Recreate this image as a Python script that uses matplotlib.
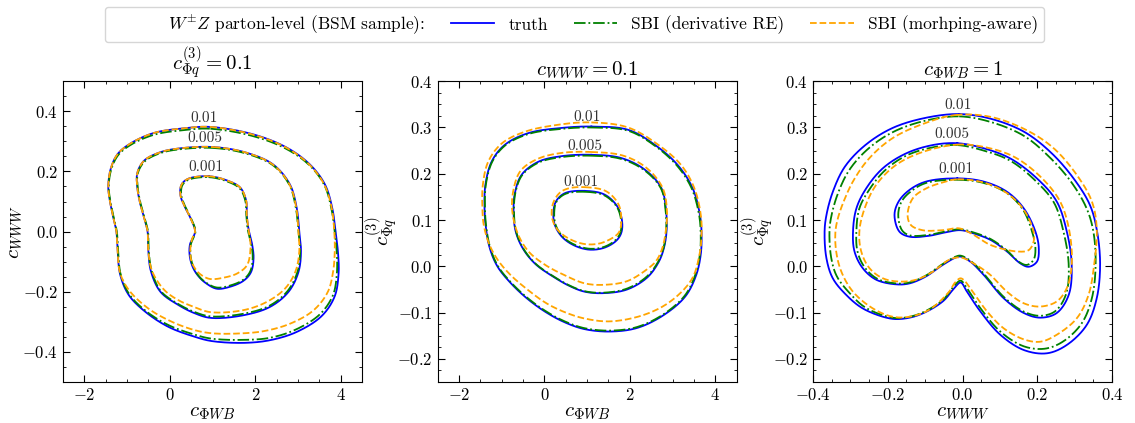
import numpy as np
import matplotlib
matplotlib.use("Agg")
import matplotlib.pyplot as plt
from matplotlib.ticker import MultipleLocator, AutoMinorLocator
from matplotlib.lines import Line2D

plt.rcParams.update({
    "font.family": "serif",
    "font.serif": ["cmr10"],
    "mathtext.fontset": "cm",
    "axes.formatter.use_mathtext": True,
    "axes.unicode_minus": True,
})

# ---------------- data: contour vertices ----------------
levels = ["0.01", "0.005", "0.001"]
series_names = ["truth", "SBI (derivative RE)", "SBI (morhping-aware)"]

# Panel 1: x = c_PhiWB, y = c_WWW   (c_Phiq3 = 0.1)
p1_truth_01 = [(0.95,0.348),(1.96,0.323),(2.74,0.279),(3.28,0.223),(3.63,0.157),(3.80,0.080),(3.88,0.000),(3.94,-0.075),(3.95,-0.140),(3.86,-0.215),(3.56,-0.280),(2.98,-0.333),(2.35,-0.361),(1.73,-0.370),(0.98,-0.364),(0.59,-0.350),(-0.03,-0.317),(-0.57,-0.267),(-0.96,-0.211),(-1.16,-0.144),(-1.22,-0.067),(-1.25,0.000),(-1.32,0.045),(-1.40,0.100),(-1.44,0.150),(-1.38,0.210),(-1.22,0.258),(-0.92,0.293),(-0.37,0.328),(0.30,0.343)]
p1_green_01 = [(0.95,0.342),(1.96,0.317),(2.74,0.274),(3.28,0.219),(3.62,0.154),(3.78,0.078),(3.86,0.000),(3.91,-0.075),(3.91,-0.140),(3.82,-0.211),(3.52,-0.274),(2.96,-0.325),(2.35,-0.353),(1.73,-0.360),(0.98,-0.356),(0.59,-0.343),(-0.03,-0.311),(-0.57,-0.263),(-0.95,-0.208),(-1.15,-0.142),(-1.21,-0.067),(-1.24,0.000),(-1.31,0.045),(-1.39,0.100),(-1.43,0.150),(-1.37,0.207),(-1.21,0.254),(-0.92,0.288),(-0.37,0.322),(0.30,0.337)]
p1_orange_01 = [(0.95,0.348),(1.96,0.322),(2.74,0.278),(3.28,0.221),(3.62,0.155),(3.79,0.078),(3.85,0.000),(3.86,-0.070),(3.82,-0.135),(3.70,-0.200),(3.37,-0.261),(2.82,-0.306),(2.20,-0.331),(1.58,-0.339),(0.98,-0.338),(0.59,-0.328),(0.05,-0.300),(-0.50,-0.256),(-0.96,-0.194),(-1.17,-0.135),(-1.22,-0.067),(-1.25,0.000),(-1.32,0.045),(-1.40,0.100),(-1.44,0.150),(-1.38,0.210),(-1.22,0.258),(-0.92,0.293),(-0.37,0.328),(0.30,0.343)]

p1_truth_005 = [(1.03,0.281),(1.80,0.262),(2.42,0.223),(2.81,0.157),(2.97,0.079),(3.03,0.000),(3.07,-0.067),(3.01,-0.135),(2.78,-0.200),(2.35,-0.250),(1.73,-0.278),(0.96,-0.287),(0.59,-0.272),(0.20,-0.244),(-0.22,-0.200),(-0.44,-0.133),(-0.50,-0.070),(-0.52,0.000),(-0.58,0.035),(-0.68,0.085),(-0.76,0.146),(-0.76,0.195),(-0.60,0.236),(-0.22,0.264),(0.25,0.277)]
p1_green_005 = [(1.03,0.278),(1.80,0.259),(2.42,0.220),(2.80,0.155),(2.95,0.079),(3.01,0.000),(3.05,-0.067),(2.99,-0.133),(2.76,-0.197),(2.34,-0.246),(1.73,-0.273),(0.96,-0.282),(0.59,-0.268),(0.20,-0.241),(-0.21,-0.198),(-0.42,-0.133),(-0.49,-0.070),(-0.51,0.000),(-0.57,0.035),(-0.67,0.085),(-0.75,0.146),(-0.75,0.193),(-0.59,0.233),(-0.22,0.261),(0.25,0.274)]
p1_orange_005 = [(1.03,0.281),(1.80,0.262),(2.42,0.222),(2.80,0.157),(2.96,0.079),(3.01,0.000),(3.03,-0.067),(2.94,-0.133),(2.70,-0.189),(2.28,-0.233),(1.73,-0.261),(0.96,-0.268),(0.59,-0.252),(0.20,-0.228),(-0.13,-0.194),(-0.41,-0.133),(-0.50,-0.070),(-0.52,0.000),(-0.58,0.035),(-0.68,0.085),(-0.76,0.146),(-0.76,0.195),(-0.60,0.236),(-0.22,0.264),(0.25,0.277)]

p1_truth_001 = [(0.91,0.184),(1.34,0.170),(1.65,0.146),(1.79,0.101),(1.80,0.057),(1.84,0.010),(1.93,-0.045),(1.96,-0.090),(1.90,-0.135),(1.73,-0.163),(1.42,-0.183),(1.10,-0.190),(0.85,-0.172),(0.68,-0.150),(0.55,-0.122),(0.47,-0.085),(0.47,-0.044),(0.59,0.000),(0.50,0.040),(0.36,0.080),(0.25,0.120),(0.27,0.155),(0.42,0.175)]
p1_green_001 = [(0.91,0.181),(1.34,0.167),(1.64,0.143),(1.77,0.101),(1.79,0.057),(1.82,0.010),(1.91,-0.045),(1.94,-0.090),(1.88,-0.133),(1.72,-0.160),(1.42,-0.179),(1.10,-0.186),(0.85,-0.170),(0.68,-0.148),(0.56,-0.120),(0.49,-0.085),(0.49,-0.044),(0.60,0.000),(0.51,0.040),(0.37,0.080),(0.27,0.120),(0.29,0.153),(0.43,0.172)]
p1_orange_001 = [(0.91,0.184),(1.34,0.170),(1.65,0.146),(1.79,0.101),(1.80,0.057),(1.84,0.010),(1.89,-0.050),(1.81,-0.111),(1.58,-0.139),(1.27,-0.153),(0.96,-0.158),(0.80,-0.150),(0.64,-0.132),(0.51,-0.100),(0.48,-0.060),(0.52,-0.025),(0.59,0.000),(0.50,0.040),(0.36,0.080),(0.25,0.120),(0.27,0.155),(0.42,0.175)]

# Panel 2: x = c_PhiWB, y = c_Phiq3   (c_WWW = 0.1)
p2_truth_01 = [(1.10,0.302),(1.96,0.295),(2.58,0.263),(3.12,0.219),(3.47,0.169),(3.64,0.112),(3.68,0.070),(3.66,0.025),(3.55,-0.020),(3.30,-0.065),(2.80,-0.105),(2.18,-0.133),(1.55,-0.141),(0.95,-0.136),(0.50,-0.122),(0.05,-0.100),(-0.40,-0.070),(-0.80,-0.035),(-1.10,0.000),(-1.28,0.040),(-1.37,0.085),(-1.40,0.125),(-1.38,0.176),(-1.23,0.227),(-0.92,0.263),(-0.37,0.288),(0.40,0.299)]
p2_green_01 = [(1.10,0.300),(1.96,0.293),(2.58,0.261),(3.11,0.217),(3.45,0.168),(3.62,0.112),(3.66,0.070),(3.64,0.025),(3.53,-0.019),(3.29,-0.063),(2.80,-0.103),(2.18,-0.131),(1.55,-0.139),(0.95,-0.134),(0.50,-0.120),(0.05,-0.098),(-0.40,-0.068),(-0.80,-0.033),(-1.09,0.001),(-1.27,0.041),(-1.36,0.085),(-1.39,0.125),(-1.37,0.176),(-1.22,0.226),(-0.92,0.261),(-0.37,0.286),(0.40,0.297)]
p2_orange_01 = [(1.10,0.311),(1.96,0.300),(2.66,0.263),(3.20,0.219),(3.51,0.169),(3.66,0.112),(3.68,0.070),(3.63,0.025),(3.45,-0.028),(2.95,-0.076),(2.33,-0.105),(1.55,-0.119),(0.95,-0.113),(0.50,-0.100),(0.05,-0.080),(-0.40,-0.050),(-0.80,-0.018),(-1.10,0.015),(-1.30,0.050),(-1.42,0.090),(-1.45,0.125),(-1.44,0.176),(-1.31,0.227),(-0.99,0.266),(-0.45,0.291),(0.33,0.306)]

p2_truth_005 = [(1.10,0.241),(1.80,0.234),(2.35,0.209),(2.74,0.169),(2.85,0.119),(2.86,0.076),(2.80,0.040),(2.68,0.010),(2.41,-0.024),(1.94,-0.050),(1.40,-0.058),(0.95,-0.055),(0.60,-0.043),(0.20,-0.022),(-0.21,0.005),(-0.50,0.038),(-0.67,0.075),(-0.72,0.115),(-0.69,0.158),(-0.53,0.198),(-0.14,0.226),(0.40,0.238)]
p2_green_005 = [(1.10,0.239),(1.80,0.232),(2.35,0.207),(2.73,0.168),(2.84,0.119),(2.85,0.076),(2.79,0.040),(2.67,0.011),(2.40,-0.022),(1.94,-0.048),(1.40,-0.057),(0.95,-0.054),(0.60,-0.042),(0.20,-0.021),(-0.21,0.006),(-0.49,0.038),(-0.66,0.075),(-0.71,0.115),(-0.68,0.158),(-0.52,0.197),(-0.14,0.224),(0.40,0.236)]
p2_orange_005 = [(1.10,0.247),(1.85,0.239),(2.40,0.212),(2.77,0.169),(2.87,0.119),(2.84,0.075),(2.76,0.039),(2.62,0.012),(2.41,-0.006),(1.94,-0.032),(1.40,-0.040),(0.95,-0.037),(0.49,-0.020),(0.02,0.003),(-0.37,0.032),(-0.62,0.070),(-0.75,0.119),(-0.73,0.162),(-0.56,0.206),(-0.16,0.232),(0.40,0.245)]

p2_truth_001 = [(0.95,0.163),(1.41,0.155),(1.71,0.129),(1.82,0.097),(1.80,0.072),(1.68,0.055),(1.40,0.040),(1.05,0.036),(0.70,0.045),(0.42,0.063),(0.25,0.088),(0.21,0.112),(0.27,0.140),(0.48,0.158)]
p2_green_001 = [(0.95,0.161),(1.41,0.153),(1.70,0.128),(1.80,0.097),(1.78,0.073),(1.67,0.057),(1.40,0.042),(1.05,0.038),(0.70,0.047),(0.43,0.064),(0.27,0.088),(0.23,0.112),(0.28,0.139),(0.48,0.156)]
p2_orange_001 = [(0.95,0.171),(1.45,0.162),(1.74,0.133),(1.80,0.097),(1.76,0.076),(1.67,0.066),(1.32,0.050),(0.95,0.048),(0.57,0.060),(0.30,0.080),(0.18,0.105),(0.20,0.135),(0.35,0.158),(0.55,0.168)]

# Panel 3: x = c_WWW, y = c_Phiq3   (c_PhiWB = 1)
p3_truth_01 = [(-0.009,0.329),(0.075,0.319),(0.164,0.291),(0.235,0.247),(0.297,0.190),(0.341,0.132),(0.360,0.075),(0.368,0.003),(0.359,-0.069),(0.332,-0.127),(0.279,-0.170),(0.226,-0.188),(0.164,-0.181),(0.101,-0.148),(0.048,-0.098),(0.012,-0.055),(-0.005,-0.035),(-0.020,-0.045),(-0.053,-0.076),(-0.116,-0.105),(-0.169,-0.114),(-0.204,-0.111),(-0.267,-0.091),(-0.311,-0.062),(-0.347,-0.026),(-0.364,0.017),(-0.369,0.075),(-0.364,0.111),(-0.347,0.161),(-0.315,0.215),(-0.260,0.262),(-0.187,0.299),(-0.098,0.321)]
p3_green_01 = [(-0.009,0.324),(0.075,0.312),(0.164,0.282),(0.230,0.238),(0.290,0.183),(0.332,0.125),(0.350,0.075),(0.356,0.003),(0.346,-0.069),(0.319,-0.123),(0.270,-0.162),(0.221,-0.178),(0.164,-0.173),(0.101,-0.141),(0.050,-0.093),(0.014,-0.050),(-0.005,-0.031),(-0.020,-0.040),(-0.053,-0.073),(-0.116,-0.103),(-0.169,-0.112),(-0.204,-0.108),(-0.262,-0.088),(-0.302,-0.058),(-0.336,-0.022),(-0.351,0.017),(-0.356,0.075),(-0.351,0.108),(-0.334,0.156),(-0.303,0.208),(-0.251,0.255),(-0.184,0.291),(-0.098,0.315)]
p3_orange_01 = [(-0.018,0.327),(0.075,0.323),(0.172,0.294),(0.244,0.255),(0.306,0.197),(0.346,0.140),(0.359,0.082),(0.352,0.003),(0.337,-0.062),(0.306,-0.112),(0.252,-0.148),(0.208,-0.163),(0.164,-0.158),(0.110,-0.134),(0.066,-0.098),(0.030,-0.058),(0.004,-0.030),(-0.006,-0.026),(-0.020,-0.035),(-0.036,-0.055),(-0.089,-0.094),(-0.142,-0.109),(-0.187,-0.109),(-0.240,-0.091),(-0.293,-0.055),(-0.324,-0.012),(-0.338,0.032),(-0.340,0.075),(-0.333,0.105),(-0.318,0.140),(-0.292,0.185),(-0.250,0.233),(-0.187,0.277),(-0.098,0.310)]

p3_truth_005 = [(-0.014,0.266),(0.057,0.255),(0.128,0.233),(0.199,0.190),(0.252,0.140),(0.279,0.075),(0.292,0.003),(0.284,-0.062),(0.252,-0.101),(0.208,-0.111),(0.164,-0.101),(0.110,-0.069),(0.057,-0.019),(0.021,0.010),(-0.005,0.021),(-0.018,0.019),(-0.053,0.003),(-0.098,-0.022),(-0.142,-0.037),(-0.178,-0.039),(-0.231,-0.029),(-0.267,-0.004),(-0.289,0.032),(-0.293,0.075),(-0.284,0.125),(-0.258,0.168),(-0.213,0.212),(-0.151,0.244),(-0.080,0.262)]
p3_green_005 = [(-0.014,0.262),(0.057,0.250),(0.128,0.228),(0.195,0.185),(0.245,0.137),(0.270,0.075),(0.284,0.003),(0.277,-0.060),(0.248,-0.097),(0.208,-0.107),(0.164,-0.098),(0.110,-0.066),(0.057,-0.016),(0.021,0.012),(-0.005,0.023),(-0.018,0.021),(-0.053,0.005),(-0.098,-0.020),(-0.142,-0.035),(-0.178,-0.037),(-0.228,-0.027),(-0.262,-0.002),(-0.281,0.032),(-0.284,0.075),(-0.276,0.125),(-0.250,0.165),(-0.208,0.207),(-0.151,0.239),(-0.080,0.257)]
p3_orange_005 = [(-0.014,0.263),(0.057,0.258),(0.137,0.237),(0.208,0.194),(0.261,0.140),(0.286,0.075),(0.292,0.003),(0.279,-0.047),(0.252,-0.076),(0.208,-0.087),(0.164,-0.080),(0.119,-0.055),(0.075,-0.019),(0.030,0.006),(-0.005,0.019),(-0.036,0.014),(-0.080,-0.012),(-0.124,-0.029),(-0.169,-0.033),(-0.213,-0.026),(-0.249,-0.004),(-0.271,0.032),(-0.276,0.075),(-0.262,0.125),(-0.231,0.176),(-0.178,0.219),(-0.107,0.247)]

p3_truth_001 = [(-0.014,0.190),(0.057,0.183),(0.119,0.161),(0.164,0.125),(0.195,0.075),(0.204,0.039),(0.199,0.010),(0.177,-0.001),(0.155,0.006),(0.119,0.032),(0.075,0.057),(0.030,0.071),(-0.005,0.078),(-0.036,0.075),(-0.089,0.066),(-0.142,0.064),(-0.169,0.075),(-0.182,0.111),(-0.171,0.140),(-0.142,0.165),(-0.098,0.183)]
p3_green_001 = [(-0.014,0.187),(0.057,0.180),(0.119,0.158),(0.162,0.122),(0.186,0.075),(0.195,0.039),(0.190,0.014),(0.172,0.003),(0.150,0.010),(0.119,0.034),(0.075,0.059),(0.030,0.073),(-0.005,0.080),(-0.036,0.077),(-0.089,0.068),(-0.142,0.067),(-0.162,0.078),(-0.172,0.111),(-0.163,0.140),(-0.138,0.162),(-0.098,0.180)]
p3_orange_001 = [(-0.014,0.188),(0.057,0.181),(0.119,0.158),(0.164,0.122),(0.190,0.075),(0.190,0.053),(0.177,0.035),(0.146,0.032),(0.075,0.046),(0.030,0.068),(-0.009,0.082),(-0.053,0.078),(-0.107,0.078),(-0.138,0.089),(-0.147,0.111),(-0.133,0.147),(-0.098,0.168),(-0.050,0.182)]

titles = [r"$c_{\Phi q}^{(3)} = 0.1$", r"$c_{WWW} = 0.1$", r"$c_{\Phi WB} = 1$"]
xlabels = [r"$c_{\Phi WB}$", r"$c_{\Phi WB}$", r"$c_{WWW}$"]
ylabels = [r"$c_{WWW}$", r"$c_{\Phi q}^{(3)}$", r"$c_{\Phi q}^{(3)}$"]

panels = [
    [[p1_truth_01, p1_green_01, p1_orange_01], [p1_truth_005, p1_green_005, p1_orange_005], [p1_truth_001, p1_green_001, p1_orange_001]],
    [[p2_truth_01, p2_green_01, p2_orange_01], [p2_truth_005, p2_green_005, p2_orange_005], [p2_truth_001, p2_green_001, p2_orange_001]],
    [[p3_truth_01, p3_green_01, p3_orange_01], [p3_truth_005, p3_green_005, p3_orange_005], [p3_truth_001, p3_green_001, p3_orange_001]],
]

# ---------------- drawing ----------------
def smooth_closed(pts, sx, sy, n=24):
    """Centripetal Catmull-Rom closed curve through the digitised vertices."""
    scale = np.array([sx, sy], float)
    Q = np.asarray(pts, float) / scale
    N = len(Q)
    out = []
    for i in range(N):
        p0, p1, p2, p3 = Q[(i - 1) % N], Q[i], Q[(i + 1) % N], Q[(i + 2) % N]
        t0 = 0.0
        t1 = t0 + np.linalg.norm(p1 - p0) ** 0.5
        t2 = t1 + np.linalg.norm(p2 - p1) ** 0.5
        t3 = t2 + np.linalg.norm(p3 - p2) ** 0.5
        t = np.linspace(t1, t2, n, endpoint=False)[:, None]
        A1 = (t1 - t) / (t1 - t0) * p0 + (t - t0) / (t1 - t0) * p1
        A2 = (t2 - t) / (t2 - t1) * p1 + (t - t1) / (t2 - t1) * p2
        A3 = (t3 - t) / (t3 - t2) * p2 + (t - t2) / (t3 - t2) * p3
        B1 = (t2 - t) / (t2 - t0) * A1 + (t - t0) / (t2 - t0) * A2
        B2 = (t3 - t) / (t3 - t1) * A2 + (t - t1) / (t3 - t1) * A3
        C = (t2 - t) / (t2 - t1) * B1 + (t - t1) / (t2 - t1) * B2
        out.append(C)
    out.append(Q[:1])
    return np.vstack(out) * scale

xlims = [(-2.5, 4.5), (-2.5, 4.5), (-0.4, 0.4)]
ylims = [(-0.5, 0.5), (-0.25, 0.4), (-0.25, 0.4)]
xmaj = [2, 2, 0.2]
ymaj = [0.2, 0.1, 0.1]
lefts = [0.0555, 0.3855, 0.7163]
styles = [dict(color="blue", ls="-", lw=1.3),
          dict(color="green", ls="-.", lw=1.3),
          dict(color="orange", ls="--", lw=1.3)]

fig = plt.figure(figsize=(11.35, 4.23), dpi=100)
for k in range(3):
    ax = fig.add_axes([lefts[k], 0.097, 0.2635, 0.711])
    sx = xlims[k][1] - xlims[k][0]
    sy = ylims[k][1] - ylims[k][0]
    for li, lev in enumerate(panels[k]):
        for si, curve in enumerate(lev):
            c = smooth_closed(curve, sx, sy)
            ax.plot(c[:, 0], c[:, 1], **styles[si], zorder=2 + si)
        tc = smooth_closed(lev[0], sx, sy)
        j = np.argmax(tc[:, 1])
        ax.annotate(levels[li], (tc[j, 0], tc[j, 1]), xytext=(0, 1.5),
                    textcoords="offset points", ha="center", va="bottom",
                    fontsize=11, color="0.2", zorder=6)
    ax.set_xlim(*xlims[k])
    ax.set_ylim(*ylims[k])
    ax.xaxis.set_major_locator(MultipleLocator(xmaj[k]))
    ax.yaxis.set_major_locator(MultipleLocator(ymaj[k]))
    ax.xaxis.set_minor_locator(AutoMinorLocator(4))
    ax.yaxis.set_minor_locator(AutoMinorLocator(4))
    ax.tick_params(which="both", direction="in", top=True, right=True, labelsize=12)
    ax.tick_params(which="major", length=5)
    ax.tick_params(which="minor", length=2.5)
    ax.set_title(titles[k], fontsize=15, pad=4)
    ax.set_xlabel(xlabels[k], fontsize=15, labelpad=1)
    ax.set_ylabel(ylabels[k], fontsize=15, labelpad=-2)

handles = [Line2D([], [], color="none"),
           Line2D([], [], **styles[0]),
           Line2D([], [], **styles[1]),
           Line2D([], [], **styles[2])]
labels = [r"$W^{\pm}Z$ parton-level (BSM sample):"] + series_names
fig.legend(handles, labels, loc="upper center", bbox_to_anchor=(0.506, 1.005),
           ncol=4, fontsize=12.5, frameon=True, fancybox=True, edgecolor="0.8",
           handlelength=2.5, columnspacing=1.5, borderpad=0.35)

fig.savefig("out.png", dpi=100)
